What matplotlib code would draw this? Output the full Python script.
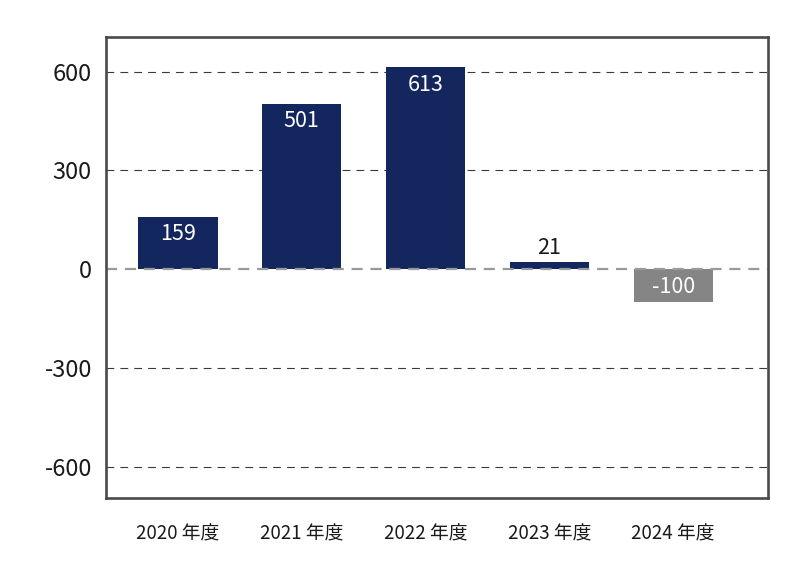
#!/usr/bin/env python3
"""Bar chart of yearly values (年度) with dashed grid and labelled bars."""

import matplotlib

matplotlib.use("Agg")
import matplotlib.pyplot as plt


years = ["2020 年度", "2021 年度", "2022 年度", "2023 年度", "2024 年度"]
values = [159, 501, 613, 21, -100]
y_ticks = [-600, -300, 0, 300, 600]

COLORS = {
    "pos": "#13275e",
    "neg": "#858585",
    "frame": "#4a4a4a",
    "grid": "#3a3a3a",
    "zero": "#9a9a9a",
    "text": "#1a1a1a",
}

plt.rcParams["font.family"] = ["Noto Sans CJK JP", "DejaVu Sans"]

fig = plt.figure(figsize=(7.87, 5.77), dpi=100)
ax = fig.add_axes([0.1343, 0.1364, 0.8412, 0.799])

xs = list(range(len(values)))
bar_colors = [COLORS["pos"] if v >= 0 else COLORS["neg"] for v in values]
ax.bar(xs, values, width=0.64, color=bar_colors, zorder=2)

# grid lines, zero line is lighter and sits on top of the bars
for tick in y_ticks:
    if tick == 0:
        ax.axhline(0, color=COLORS["zero"], linewidth=1.6, dashes=(5, 3.5), zorder=3)
    else:
        ax.axhline(tick, color=COLORS["grid"], linewidth=0.8, dashes=(7, 5.5), zorder=1)

for x, v in zip(xs, values):
    if abs(v) > 60:
        offset = -12.5 if v > 0 else 10.5
        ax.annotate(
            f"{v}",
            xy=(x, v),
            xytext=(0, offset),
            textcoords="offset points",
            ha="center",
            va="center",
            color="white",
            fontsize=15.5,
        )
    else:
        ax.annotate(
            f"{v}",
            xy=(x, v),
            xytext=(0, 2),
            textcoords="offset points",
            ha="center",
            va="bottom",
            color=COLORS["text"],
            fontsize=15.5,
        )

ax.set_xlim(-0.584, 4.764)
ax.set_ylim(-696, 704)
ax.set_yticks(y_ticks)
ax.set_yticklabels([f"{t}" for t in y_ticks])
ax.set_xticks(xs)
ax.set_xticklabels(years)
ax.tick_params(axis="y", length=0, pad=10, labelsize=17, labelcolor=COLORS["text"])
ax.tick_params(axis="x", length=0, pad=18, labelsize=13.5, labelcolor=COLORS["text"])

for spine in ax.spines.values():
    spine.set_color(COLORS["frame"])
    spine.set_linewidth(1.9)
    spine.set_zorder(4)

fig.savefig("out.png", dpi=100)
